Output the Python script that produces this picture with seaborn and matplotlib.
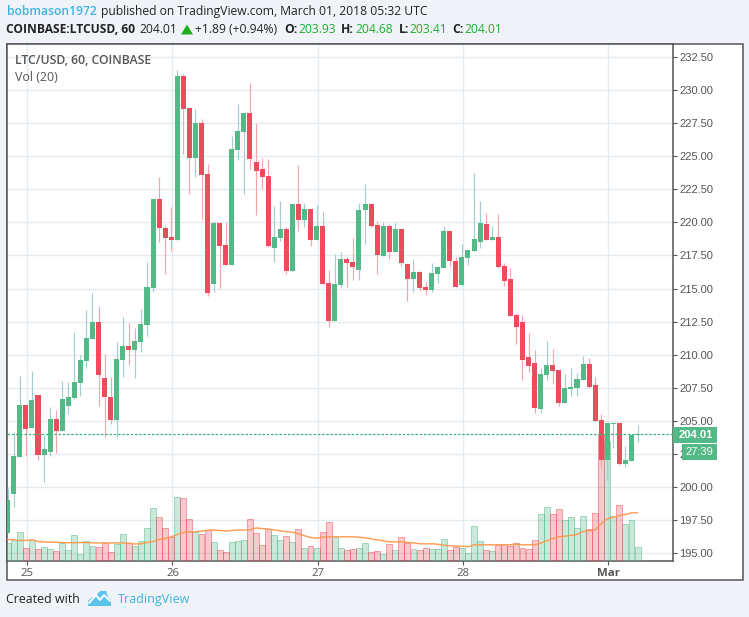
import numpy as np
import pandas as pd
import matplotlib
matplotlib.use('Agg')
import matplotlib.pyplot as plt
from matplotlib.patches import Rectangle, Polygon
import seaborn as sns

# hourly candles, values
opens = [196.54, 199.48, 202.27, 206.20, 204.46, 206.96, 202.42, 202.64, 205.15, 204.24,
         206.13, 206.73, 207.87, 209.52, 211.18, 212.47, 208.24, 206.81, 205.07, 209.60,
         210.66, 210.35, 210.96, 212.24, 215.04, 221.76, 219.57, 218.89, 218.66, 231.05,
         228.64, 224.86, 227.50, 223.65, 215.34, 219.94, 218.28, 216.77, 225.46, 226.82,
         228.26, 224.56, 224.03, 223.50, 218.05, 218.81, 219.49, 216.32, 221.38, 220.17,
         221.00, 218.66, 219.72, 215.41, 212.54, 215.26, 217.23, 217.00, 216.39, 220.92,
         221.38, 219.79, 217.45, 219.72, 217.76, 219.49, 216.85, 215.71, 216.24, 215.11,
         214.89, 216.09, 216.54, 219.34, 217.08, 215.26, 217.30, 217.84, 218.51, 219.87,
         218.66, 218.89, 216.69, 215.71, 213.00, 212.47, 209.83, 209.37, 205.90, 208.47,
         209.22, 208.84, 206.35, 207.41, 207.49, 208.09, 209.30, 207.71, 205.07, 202.04,
         204.77, 204.84, 201.74, 202.00, 203.93]
highs = [199.94, 204.16, 208.39, 206.20, 208.77, 206.96, 203.93, 206.05, 205.82, 208.02,
         207.95, 211.71, 209.98, 213.37, 214.66, 213.68, 210.05, 208.32, 210.96, 212.85,
         212.39, 212.01, 213.45, 217.00, 221.76, 223.42, 219.72, 221.15, 231.50, 231.20,
         228.64, 228.56, 227.80, 224.41, 220.09, 219.94, 220.02, 226.52, 228.93, 228.26,
         230.52, 227.50, 224.86, 224.78, 221.23, 221.60, 219.64, 221.38, 224.33, 221.45,
         221.00, 221.30, 220.78, 216.39, 217.61, 217.76, 217.38, 218.81, 221.45, 222.89,
         221.38, 220.09, 220.02, 219.87, 219.94, 219.49, 216.85, 217.23, 216.32, 215.49,
         216.92, 216.69, 219.72, 219.34, 217.38, 218.36, 217.91, 223.72, 221.60, 220.70,
         219.72, 220.63, 216.92, 216.54, 213.07, 213.00, 211.64, 210.35, 209.00, 211.03,
         210.43, 208.84, 208.54, 209.00, 208.62, 209.90, 209.75, 208.32, 205.53, 204.84,
         204.84, 204.84, 203.08, 203.93, 204.68]
lows = [196.54, 198.50, 202.27, 202.35, 204.46, 202.04, 200.38, 202.35, 202.57, 204.24,
        205.53, 206.66, 206.88, 209.00, 211.18, 206.13, 203.79, 204.77, 203.71, 208.32,
        209.22, 208.24, 210.20, 211.41, 214.74, 218.51, 216.09, 217.84, 218.66, 225.16,
        222.14, 223.42, 220.25, 214.43, 214.74, 215.04, 216.77, 216.77, 224.71, 222.14,
        224.03, 220.55, 222.51, 218.13, 217.00, 218.59, 216.09, 216.32, 219.34, 219.64,
        218.20, 218.66, 215.34, 212.09, 212.54, 215.11, 215.11, 215.64, 215.64, 218.36,
        219.64, 216.09, 217.45, 217.23, 217.76, 216.69, 214.05, 214.74, 214.81, 214.51,
        214.74, 215.41, 216.54, 216.69, 215.11, 215.19, 216.77, 217.84, 218.05, 218.66,
        218.66, 216.54, 215.19, 212.92, 210.81, 208.09, 208.69, 205.60, 205.60, 208.09,
        207.79, 206.13, 206.35, 206.88, 206.88, 208.09, 207.49, 204.99, 201.43, 200.53,
        203.00, 201.66, 201.51, 202.00, 203.41]
closes = [199.03, 202.35, 206.20, 204.39, 206.58, 202.42, 202.87, 205.15, 204.24, 206.66,
          206.81, 207.95, 209.60, 211.26, 212.47, 208.45, 206.81, 205.07, 209.68, 210.66,
          210.35, 211.03, 212.32, 215.11, 221.76, 219.57, 218.81, 218.66, 231.05, 228.56,
          224.86, 227.50, 223.57, 214.66, 219.94, 218.20, 216.77, 225.54, 226.90, 228.26,
          224.78, 223.87, 223.42, 218.20, 218.89, 219.49, 216.32, 221.38, 220.17, 221.00,
          218.66, 219.72, 215.34, 212.54, 215.34, 217.23, 216.92, 216.62, 220.92, 221.38,
          219.72, 217.53, 219.72, 217.76, 219.49, 216.92, 215.71, 216.24, 215.04, 214.89,
          216.17, 216.62, 219.34, 217.08, 215.11, 217.38, 217.91, 218.74, 219.94, 218.66,
          218.89, 216.62, 215.56, 212.92, 212.09, 209.60, 209.15, 205.97, 208.54, 209.22,
          208.77, 206.35, 207.49, 207.56, 208.16, 209.30, 207.56, 204.99, 202.04, 204.84,
          204.84, 201.74, 202.04, 203.93, 204.01]
volumes = [17.7, 20.7, 28.7, 12.7, 20.7, 11.7, 13.7, 11.7, 9.7, 17.7,
           10.7, 25.7, 6.7, 19.7, 14.7, 13.7, 17.7, 8.7, 16.7, 26.7,
           17.7, 14.7, 19.7, 32.7, 52.7, 43.7, 32.7, 23.7, 63.7, 62.7,
           41.7, 28.7, 26.7, 30.7, 18.7, 10.7, 8.7, 18.7, 19.7, 20.7,
           41.7, 27.7, 15.7, 31.7, 25.7, 20.7, 24.7, 18.7, 31.7, 12.7,
           14.7, 12.7, 28.7, 38.7, 23.7, 12.7, 10.7, 11.7, 12.7, 17.7,
           8.7, 9.7, 6.7, 16.7, 10.7, 23.7, 17.7, 11.7, 10.7, 12.7,
           11.7, 11.7, 21.7, 10.7, 13.7, 12.7, 7.7, 34.7, 19.7, 10.7,
           9.7, 15.7, 16.7, 14.7, 17.7, 12.7, 11.7, 20.7, 46.7, 53.7,
           46.7, 51.7, 40.7, 43.7, 32.7, 44.7, 31.7, 47.7, 127.0, 120.0,
           44.7, 55.7, 36.7, 40.7, 13.7]
vol_ma = [21.0, 20.7, 20.0, 20.0, 20.7, 19.0, 18.5, 18.3, 18.3, 17.8,
          17.8, 17.7, 18.0, 18.0, 17.6, 17.6, 17.6, 17.6, 17.6, 17.6,
          17.3, 16.5, 16.7, 18.0, 19.0, 21.0, 22.0, 23.5, 26.0, 28.0,
          28.7, 28.7, 29.5, 30.3, 30.5, 30.0, 29.5, 30.0, 30.5, 30.5,
          30.5, 32.5, 32.0, 31.5, 30.5, 29.7, 28.7, 28.3, 26.7, 24.7,
          23.0, 22.3, 23.3, 23.7, 23.7, 23.7, 23.7, 23.7, 23.3, 22.7,
          21.7, 20.7, 19.7, 18.7, 18.7, 18.7, 18.0, 17.7, 16.7, 16.7,
          16.7, 16.3, 15.3, 14.7, 14.3, 14.3, 13.7, 15.7, 15.7, 15.7,
          15.7, 15.7, 15.7, 15.7, 16.3, 15.7, 15.7, 15.7, 17.3, 19.7,
          21.7, 23.7, 24.3, 25.0, 26.0, 29.0, 30.0, 30.7, 36.7, 41.7,
          43.3, 45.0, 46.0, 47.7, 47.7]
day_labels = ['25', '26', '27', '28', 'Mar']
day_ticks = [3.2, 27.2, 51.2, 75.2, 99.2]
price_ticks = [195 + 2.5 * k for k in range(16)]
last_price = 204.01

GREEN = '#53B987'
RED = '#EB4D5C'
GREY = '#555555'
BLUE = '#3BB3E4'
BG = '#F0F3F7'
GRID = '#E4ECF2'

sns.set_theme(style='white')
plt.rcParams['font.family'] = ['Open Sans', 'DejaVu Sans']

df = pd.DataFrame({'hour': range(len(opens)), 'open': opens, 'high': highs, 'low': lows,
                   'close': closes, 'volume': volumes, 'vol_ma': vol_ma})
df['side'] = np.where(df['close'] >= df['open'], 'up', 'down')
W, H = 749, 617
fig = plt.figure(figsize=(W / 100, H / 100), dpi=100, facecolor=BG)
rect = [6.5 / W, 1 - 560.5 / H, 666 / W, 517 / H]

# page layer in pixel coordinates
bg = fig.add_axes([0, 0, 1, 1], zorder=-1)
bg.set_xlim(0, W)
bg.set_ylim(H, 0)
bg.axis('off')
bg.add_patch(Rectangle((6.5, 43.5), 736, 536.5, fc='white', ec=GREY, lw=1.1))

# price pane with grid and ticks
ax = fig.add_axes(rect, zorder=1)
ax.set_xlim(-0.2, 109.77)
ax.set_ylim(194.47, 233.5)
ax.grid(True, color=GRID, lw=1.0)
ax.set_axisbelow(True)
ax.set_xticks(day_ticks, day_labels)
ax.set_yticks(price_ticks, [f'{p:.2f}' for p in price_ticks])
ax.yaxis.tick_right()
ax.tick_params(axis='y', length=2.9, width=0.8, color=GREY, labelcolor=GREY, labelsize=8,
               pad=1.8, right=True, labelfontfamily='Liberation Sans')
ax.tick_params(axis='x', length=2.9, width=0.8, color=GREY, labelcolor=GREY, labelsize=8.2,
               pad=2.4, bottom=True, labelfontfamily='Open Sans')
ax.get_xticklabels()[-1].set_fontweight('bold')
for s in ax.spines.values():
    s.set_color(GREY)
    s.set_linewidth(1.1)

# volume pane, one unit is one pixel of bar height
ax_vol = fig.add_axes(rect, zorder=2, facecolor='none')
sns.barplot(data=df, x='hour', y='volume', hue='side', palette={'up': GREEN, 'down': RED},
            native_scale=True, dodge=False, width=0.98, saturation=1, legend=False, ax=ax_vol)
for bar in ax_vol.patches:
    c = bar.get_facecolor()
    bar.set_facecolor((c[0], c[1], c[2], 0.3))
    bar.set_edgecolor((c[0], c[1], c[2], 0.5))
    bar.set_linewidth(0.7)
sns.lineplot(data=df, x='hour', y='vol_ma', color='#FF9A50', lw=1.0, ax=ax_vol)
ax_vol.set_xlim(-0.2, 109.77)
ax_vol.set_ylim(0, 517)
ax_vol.axis('off')

# candles on top
ax_c = fig.add_axes(rect, zorder=3, facecolor='none')
ax_c.set_xlim(-0.2, 109.77)
ax_c.set_ylim(194.47, 233.5)
ax_c.axis('off')
colors = df['side'].map({'up': GREEN, 'down': RED})
wick_colors = df['side'].map({'up': '#A6CDCE', 'down': '#F6A5AF'})
ax_c.vlines(df['hour'], df['low'], df['high'], colors=wick_colors, lw=0.85, zorder=0.5)
ax_c.bar(df['hour'], df['close'] - df['open'], bottom=df['open'], width=0.83, color=colors,
         edgecolor='none', linewidth=0, zorder=1)
ax_c.axhline(last_price, color='#3CB57C', lw=0.9, ls=(0, (2, 1.4)), zorder=2)

# text and tags in pixel coordinates
top = fig.add_axes([0, 0, 1, 1], zorder=10, facecolor='none')
top.set_xlim(0, W)
top.set_ylim(H, 0)
top.axis('off')


def put(x, y, s, color='#222222', size=8.75, weight='normal', **kw):
    top.text(x, y, s, color=color, fontsize=size, fontweight=weight, va='center', **kw)


put(6.5, 11.5, 'bobmason1972', color=BLUE, weight='semibold')
put(101, 11.5, 'published on TradingView.com, March 01, 2018 05:32 UTC')
put(6.5, 29.5, 'COINBASE:LTCUSD, 60', size=8.65, weight='bold')
put(139, 29.5, '204.01')
top.add_patch(Polygon([(181, 34.5), (193, 34.5), (187, 24.5)], fc='#1FAE1F', ec='none'))
put(195, 29.5, '+1.89 (+0.94%)')
put(284, 29.5, 'O:', weight='bold')
put(298.5, 29.5, '203.93', color='#1FAE2E')
put(341, 29.5, 'H:', weight='bold')
put(355.5, 29.5, '204.68', color='#1FAE2E')
put(398.5, 29.5, 'L:', weight='bold')
put(409, 29.5, '203.41', color='#1FAE2E')
put(452, 29.5, 'C:', weight='bold')
put(464, 29.5, '204.01', color='#1FAE2E')
put(15, 60.5, 'LTC/USD, 60, COINBASE', color=GREY, size=8.85, weight='semibold')
put(15, 77.5, 'Vol (20)', color=GREY, size=8.9)
put(6.5, 599.5, 'Created with', size=8.9)
put(118, 599.5, 'TradingView', color=BLUE, size=9.0)

top.add_patch(Rectangle((672.5, 427), 44.5, 16, fc=GREEN, ec='none'))
top.add_patch(Rectangle((682, 444), 35, 15.5, fc=GREEN, ec='none'))
top.text(679, 435, '204.01', color='white', fontsize=8, fontweight='bold', va='center',
         family='Liberation Sans')
top.text(685.5, 452, '27:39', color='white', fontsize=8, va='center', family='Liberation Sans')

# logo
top.add_patch(Polygon([(88, 606), (88, 601), (92, 597), (95, 597), (100, 591), (106, 591),
                       (108, 597), (111, 600), (111, 606)], fc='#5BC3EA', ec='none'))
top.plot([89, 96, 100, 104, 110], [603, 595, 600, 595, 601], color='white', lw=1.4)

plt.savefig('out.png', dpi=100, facecolor=BG)
